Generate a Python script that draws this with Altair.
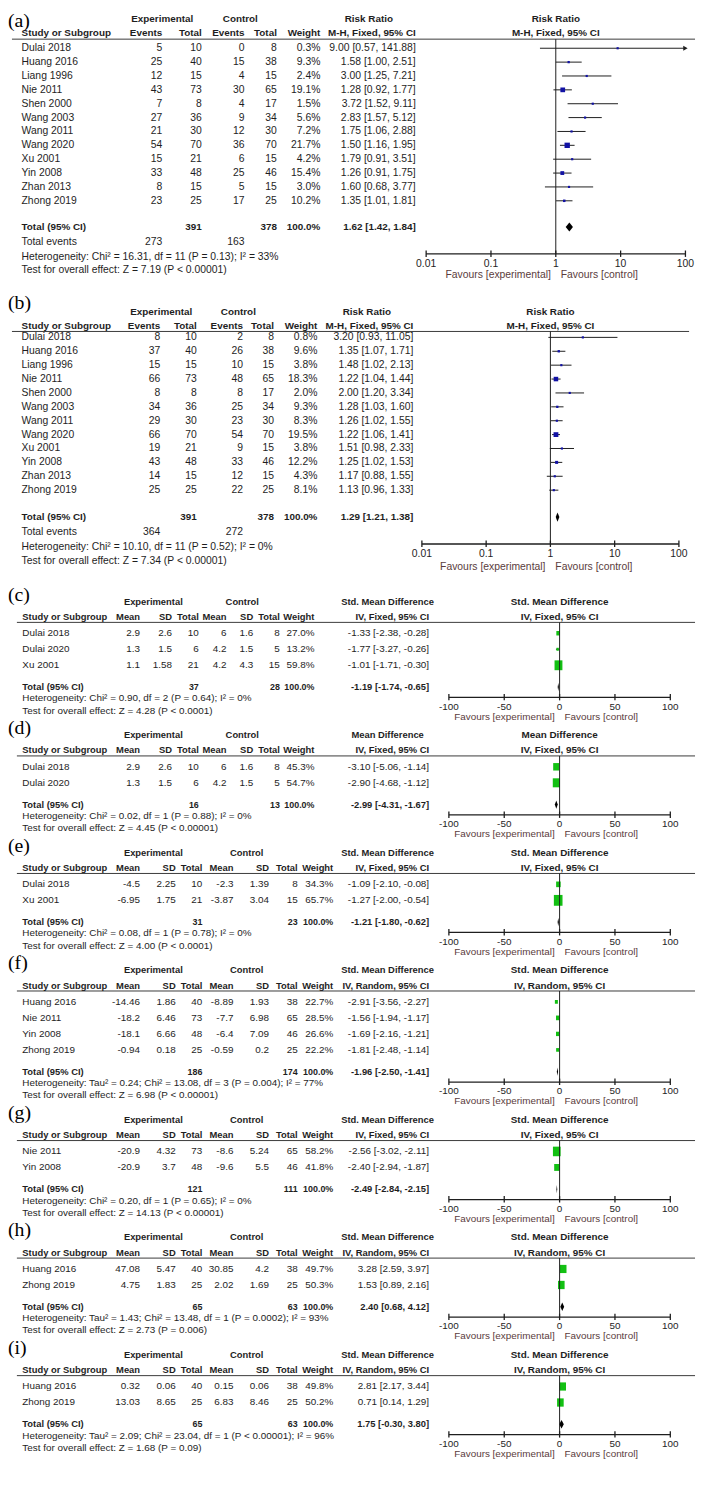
import altair as alt
import pandas as pd

# ======================= DATA =======================
# (a) risk ratio
a_study = ["Dulai 2018", "Huang 2016", "Liang 1996", "Nie 2011", "Shen 2000", "Wang 2003",
           "Wang 2011", "Wang 2020", "Xu 2001", "Yin 2008", "Zhan 2013", "Zhong 2019"]
a_exp_events = [5, 25, 12, 43, 7, 27, 21, 54, 15, 33, 8, 23]
a_exp_total = [10, 40, 15, 73, 8, 36, 30, 70, 21, 48, 15, 25]
a_ctl_events = [0, 15, 4, 30, 4, 9, 12, 36, 6, 25, 5, 17]
a_ctl_total = [8, 38, 15, 65, 17, 34, 30, 70, 15, 46, 15, 25]
a_weight = [0.3, 9.3, 2.4, 19.1, 1.5, 5.6, 7.2, 21.7, 4.2, 15.4, 3.0, 10.2]
a_est = [9.00, 1.58, 3.00, 1.28, 3.72, 2.83, 1.75, 1.50, 1.79, 1.26, 1.60, 1.35]
a_lo = [0.57, 1.00, 1.25, 0.92, 1.52, 1.57, 1.06, 1.16, 0.91, 0.91, 0.68, 1.01]
a_hi = [141.88, 2.51, 7.21, 1.77, 9.11, 5.12, 2.88, 1.95, 3.51, 1.75, 3.77, 1.81]
a_total = [391, 378, 1.62, 1.42, 1.84]
a_total_events = [273, 163]
a_het = "Heterogeneity: Chi\u00b2 = 16.31, df = 11 (P = 0.13); I\u00b2 = 33%"
a_test = "Test for overall effect: Z = 7.19 (P < 0.00001)"

# (b) risk ratio
b_study = a_study
b_exp_events = [8, 37, 15, 66, 8, 34, 29, 66, 19, 43, 14, 25]
b_exp_total = [10, 40, 15, 73, 8, 36, 30, 70, 21, 48, 15, 25]
b_ctl_events = [2, 26, 10, 48, 8, 25, 23, 54, 9, 33, 12, 22]
b_ctl_total = [8, 38, 15, 65, 17, 34, 30, 70, 15, 46, 15, 25]
b_weight = [0.8, 9.6, 3.8, 18.3, 2.0, 9.3, 8.3, 19.5, 3.8, 12.2, 4.3, 8.1]
b_est = [3.20, 1.35, 1.48, 1.22, 2.00, 1.28, 1.26, 1.22, 1.51, 1.25, 1.17, 1.13]
b_lo = [0.93, 1.07, 1.02, 1.04, 1.20, 1.03, 1.02, 1.06, 0.98, 1.02, 0.88, 0.96]
b_hi = [11.05, 1.71, 2.13, 1.44, 3.34, 1.60, 1.55, 1.41, 2.33, 1.53, 1.55, 1.33]
b_total = [391, 378, 1.29, 1.21, 1.38]
b_total_events = [364, 272]
b_het = "Heterogeneity: Chi\u00b2 = 10.10, df = 11 (P = 0.52); I\u00b2 = 0%"
b_test = "Test for overall effect: Z = 7.34 (P < 0.00001)"

# (c)
c_study = ["Dulai 2018", "Dulai 2020", "Xu 2001"]
c_exp_mean = [2.9, 1.3, 1.1]
c_exp_sd = [2.6, 1.5, 1.58]
c_exp_n = [10, 6, 21]
c_ctl_mean = [6, 4.2, 4.2]
c_ctl_sd = [1.6, 1.5, 4.3]
c_ctl_n = [8, 5, 15]
c_weight = [27.0, 13.2, 59.8]
c_est = [-1.33, -1.77, -1.01]
c_lo = [-2.38, -3.27, -1.71]
c_hi = [-0.28, -0.26, -0.30]
c_total = [37, 28, -1.19, -1.74, -0.65]
c_het = "Heterogeneity: Chi\u00b2 = 0.90, df = 2 (P = 0.64); I\u00b2 = 0%"
c_test = "Test for overall effect: Z = 4.28 (P < 0.0001)"

# (d)
d_study = ["Dulai 2018", "Dulai 2020"]
d_exp_mean = [2.9, 1.3]
d_exp_sd = [2.6, 1.5]
d_exp_n = [10, 6]
d_ctl_mean = [6, 4.2]
d_ctl_sd = [1.6, 1.5]
d_ctl_n = [8, 5]
d_weight = [45.3, 54.7]
d_est = [-3.10, -2.90]
d_lo = [-5.06, -4.68]
d_hi = [-1.14, -1.12]
d_total = [16, 13, -2.99, -4.31, -1.67]
d_het = "Heterogeneity: Chi\u00b2 = 0.02, df = 1 (P = 0.88); I\u00b2 = 0%"
d_test = "Test for overall effect: Z = 4.45 (P < 0.00001)"

# (e)
e_study = ["Dulai 2018", "Xu 2001"]
e_exp_mean = [-4.5, -6.95]
e_exp_sd = [2.25, 1.75]
e_exp_n = [10, 21]
e_ctl_mean = [-2.3, -3.87]
e_ctl_sd = [1.39, 3.04]
e_ctl_n = [8, 15]
e_weight = [34.3, 65.7]
e_est = [-1.09, -1.27]
e_lo = [-2.10, -2.00]
e_hi = [-0.08, -0.54]
e_total = [31, 23, -1.21, -1.80, -0.62]
e_het = "Heterogeneity: Chi\u00b2 = 0.08, df = 1 (P = 0.78); I\u00b2 = 0%"
e_test = "Test for overall effect: Z = 4.00 (P < 0.0001)"

# (f)
f_study = ["Huang 2016", "Nie 2011", "Yin 2008", "Zhong 2019"]
f_exp_mean = [-14.46, -18.2, -18.1, -0.94]
f_exp_sd = [1.86, 6.46, 6.66, 0.18]
f_exp_n = [40, 73, 48, 25]
f_ctl_mean = [-8.89, -7.7, -6.4, -0.59]
f_ctl_sd = [1.93, 6.98, 7.09, 0.2]
f_ctl_n = [38, 65, 46, 25]
f_weight = [22.7, 28.5, 26.6, 22.2]
f_est = [-2.91, -1.56, -1.69, -1.81]
f_lo = [-3.56, -1.94, -2.16, -2.48]
f_hi = [-2.27, -1.17, -1.21, -1.14]
f_total = [186, 174, -1.96, -2.50, -1.41]
f_het = "Heterogeneity: Tau\u00b2 = 0.24; Chi\u00b2 = 13.08, df = 3 (P = 0.004); I\u00b2 = 77%"
f_test = "Test for overall effect: Z = 6.98 (P < 0.00001)"

# (g)
g_study = ["Nie 2011", "Yin 2008"]
g_exp_mean = [-20.9, -20.9]
g_exp_sd = [4.32, 3.7]
g_exp_n = [73, 48]
g_ctl_mean = [-8.6, -9.6]
g_ctl_sd = [5.24, 5.5]
g_ctl_n = [65, 46]
g_weight = [58.2, 41.8]
g_est = [-2.56, -2.40]
g_lo = [-3.02, -2.94]
g_hi = [-2.11, -1.87]
g_total = [121, 111, -2.49, -2.84, -2.15]
g_het = "Heterogeneity: Chi\u00b2 = 0.20, df = 1 (P = 0.65); I\u00b2 = 0%"
g_test = "Test for overall effect: Z = 14.13 (P < 0.00001)"

# (h)
h_study = ["Huang 2016", "Zhong 2019"]
h_exp_mean = [47.08, 4.75]
h_exp_sd = [5.47, 1.83]
h_exp_n = [40, 25]
h_ctl_mean = [30.85, 2.02]
h_ctl_sd = [4.2, 1.69]
h_ctl_n = [38, 25]
h_weight = [49.7, 50.3]
h_est = [3.28, 1.53]
h_lo = [2.59, 0.89]
h_hi = [3.97, 2.16]
h_total = [65, 63, 2.40, 0.68, 4.12]
h_het = "Heterogeneity: Tau\u00b2 = 1.43; Chi\u00b2 = 13.48, df = 1 (P = 0.0002); I\u00b2 = 93%"
h_test = "Test for overall effect: Z = 2.73 (P = 0.006)"

# (i)
i_study = ["Huang 2016", "Zhong 2019"]
i_exp_mean = [0.32, 13.03]
i_exp_sd = [0.06, 8.65]
i_exp_n = [40, 25]
i_ctl_mean = [0.15, 6.83]
i_ctl_sd = [0.06, 8.46]
i_ctl_n = [38, 25]
i_weight = [49.8, 50.2]
i_est = [2.81, 0.71]
i_lo = [2.17, 0.14]
i_hi = [3.44, 1.29]
i_total = [65, 63, 1.75, -0.30, 3.80]
i_het = "Heterogeneity: Tau\u00b2 = 2.09; Chi\u00b2 = 23.04, df = 1 (P < 0.00001); I\u00b2 = 96%"
i_test = "Test for overall effect: Z = 1.68 (P = 0.09)"

rr_ticks = [0.01, 0.1, 1, 10, 100]
rr_tick_labels = ["0.01", "0.1", "1", "10", "100"]
md_ticks = [-100, -50, 0, 50, 100]
md_tick_labels = ["-100", "-50", "0", "50", "100"]

# ======================= LAYOUT / STYLE =======================
OFF = 8
CW, CH = 697, 1466
FONTS = {
    "rr": "Liberation Sans, Arial, Helvetica, sans-serif",
    "md": "Liberation Sans, Arial, Helvetica, sans-serif",
    "lab": "Liberation Serif, Times New Roman, serif",
}
# font sizes per panel family
FS = {
    "rr": dict(row=10.5, hdr=10, tot=10, foot=10.5, tick=10.5, fhdr=10, fav=10.5),
    "md": dict(row=10, hdr=9.5, tot=9, foot=10, tick=10, fhdr=10, fav=10),
}
INK = "#1e1e1e"
FAV = "#5a3c3c"
BLUE = "#1212a4"
GREEN = "#12c012"
RECT = "M-0.8,-1H0.8V1H-0.8Z"


def px(v):
    return round(v - OFF, 2)


texts, hlines = [], []
groups = {g: dict(st=[], dm=[], zr=[], ax=[], tk=[], tl=[], hd=[], fv=[]) for g in "ABM"}


def T(x, y, s, font, align="left", bold=False, fs=11, col=INK):
    texts.append(dict(x=px(x), y=px(y), text=s,
                      st=f"{font}|{align}|{'bold' if bold else 'normal'}", fs=fs, col=col))


def fnum(v):
    return f"{v:g}"


def fci(e, l, h):
    return f"{e:.2f} [{l:.2f}, {h:.2f}]"


def forest_common(g, p, zero, R, tot, ticks, labels, hdr1, hdr2, x0_val, x1_val, hh):
    G = groups[g]
    G["zr"].append(dict(z=zero, y0=px(R["line"]), y1=px(R["axis"])))
    yc = px(R["total"])
    G["dm"] += [dict(pn=p, dx=tot[3], dy=yc, dy2=yc),
                dict(pn=p, dx=tot[2], dy=yc - hh, dy2=yc + hh),
                dict(pn=p, dx=tot[4], dy=yc, dy2=yc)]
    G["ax"].append(dict(a=x0_val, b=x1_val, y=px(R["axis"])))
    for t, lab in zip(ticks, labels):
        G["tk"].append(dict(t=t, ya=px(R["axis"] - 3.5), yb=px(R["axis"] + 3)))
        G["tl"].append(dict(t=t, y=px(R["tick"]), text=lab))
    G["hd"].append(dict(t=zero, y=px(R["h1"]), text=hdr1))
    G["hd"].append(dict(t=zero, y=px(R["h2"]), text=hdr2))
    G["fv"].append(dict(t=zero, y=px(R["fav"])))


RR_ROWS = {
    "a": dict(label=13, h1=11, h2=25, line=31, row0=40.2, pitch=14.03, total=221, tev=236.7,
              het=251.7, test=265, axis=248.3, tick=258.3, fav=270, x1=703),
    "b": dict(label=298, h1=306.7, h2=321.7, line=326.7, row0=332.7, pitch=14.05, total=514.5,
              tev=530, het=545, test=558.5, axis=541.7, tick=551.7, fav=565, x1=697),
}
RR_COLS = {
    "a": dict(name=21.7, ev_e=164, tot_e=204, ev_c=247.3, tot_c=280, wt=324, ci=420.5,
              exp_c=164, ctl_c=243, hdr_c=373),
    "b": dict(name=21.7, ev_e=162, tot_e=199, ev_c=245.7, tot_c=277, wt=321, ci=418,
              exp_c=163, ctl_c=241, hdr_c=371),
}


def rr_panel(p, g, study, ee, et, ce, ct, wt, est, lo, hi, tot, tev, het, test):
    R, C, f = RR_ROWS[p], RR_COLS[p], "rr"
    S = FS[f]
    T(8, R["label"], f"({p})", "lab", fs=20, col="#000")
    T(C["exp_c"], R["h1"], "Experimental", f, "center", True, S["hdr"])
    T(C["ctl_c"], R["h1"], "Control", f, "center", True, S["hdr"])
    T(C["hdr_c"], R["h1"], "Risk Ratio", f, "center", True, S["hdr"])
    T(C["name"], R["h2"], "Study or Subgroup", f, "left", True, S["hdr"])
    for key, s in [("ev_e", "Events"), ("tot_e", "Total"), ("ev_c", "Events"), ("tot_c", "Total"),
                   ("wt", "Weight"), ("ci", "M-H, Fixed, 95% CI")]:
        T(C[key], R["h2"], s, f, "right", True, S["hdr"])
    hlines.append(dict(x0=px(12), x1=px(R["x1"]), y=px(R["line"])))
    for k in range(len(study)):
        y = R["row0"] + R["pitch"] * k
        T(C["name"], y, study[k], f, fs=S["row"])
        T(C["ev_e"], y, str(ee[k]), f, "right", fs=S["row"])
        T(C["tot_e"], y, str(et[k]), f, "right", fs=S["row"])
        T(C["ev_c"], y, str(ce[k]), f, "right", fs=S["row"])
        T(C["tot_c"], y, str(ct[k]), f, "right", fs=S["row"])
        T(C["wt"], y, f"{wt[k]:.1f}%", f, "right", fs=S["row"])
        T(C["ci"], y, fci(est[k], lo[k], hi[k]), f, "right", fs=S["row"])
        groups[g]["st"].append(dict(y=px(y), est=est[k], lo=lo[k], hi=hi[k],
                                    sz=max(2.2, wt[k] / 4.0) ** 2))
    T(C["name"], R["total"], "Total (95% CI)", f, "left", True, S["tot"])
    T(C["tot_e"], R["total"], str(tot[0]), f, "right", True, S["tot"])
    T(C["tot_c"], R["total"], str(tot[1]), f, "right", True, S["tot"])
    T(C["wt"], R["total"], "100.0%", f, "right", True, S["tot"])
    T(C["ci"], R["total"], fci(tot[2], tot[3], tot[4]), f, "right", True, S["tot"])
    T(C["name"], R["tev"], "Total events", f, fs=S["row"])
    T(C["ev_e"], R["tev"], str(tev[0]), f, "right", fs=S["row"])
    T(C["ev_c"], R["tev"], str(tev[1]), f, "right", fs=S["row"])
    T(C["name"], R["het"], het, f, fs=S["foot"])
    T(C["name"], R["test"], test, f, fs=S["foot"])
    forest_common(g, p, 1, R, tot, rr_ticks, rr_tick_labels, "Risk Ratio", "M-H, Fixed, 95% CI",
                  0.01, 100, 4.6)


MD_NARROW = dict(name=22.5, m_e=141.6, s_e=174, n_e=201, m_c=229, s_c=256, n_c=283,
                 wt=318, ci=434, exp_c=155, ctl_c=245, hdr_c=392)
MD_WIDE = dict(name=22.5, m_e=141.6, s_e=177.6, n_e=204.6, m_c=236, s_c=272, n_c=301,
               wt=337, ci=434, exp_c=155, ctl_c=249.5, hdr_c=392)


def md_panel(p, H, C, study, me, se, ne, mc, sc, nc, wt, est, lo, hi, tot, het, test, hdr, meth):
    f = "md"
    S = FS[f]
    n = len(study)
    last = H + 32 + 16.2 * (n - 1)
    R = dict(label=H - 7, h1=H, h2=H + 15.5, line=H + 21, total=last + 22)
    R["het"] = R["total"] + 11.5
    R["test"] = R["het"] + 12.5
    R["axis"] = R["total"] + 10.5
    R["tick"] = R["axis"] + 9.5
    R["fav"] = R["axis"] + 19.5
    T(8, R["label"], f"({p})", "lab", fs=20, col="#000")
    T(C["exp_c"], H, "Experimental", f, "center", True, S["hdr"])
    T(C["ctl_c"], H, "Control", f, "center", True, S["hdr"])
    T(C["hdr_c"], H, hdr, f, "center", True, S["hdr"])
    T(C["name"], R["h2"], "Study or Subgroup", f, "left", True, S["hdr"])
    for key, s in [("m_e", "Mean"), ("s_e", "SD"), ("n_e", "Total"), ("m_c", "Mean"),
                   ("s_c", "SD"), ("n_c", "Total"), ("wt", "Weight"), ("ci", meth)]:
        T(C[key], R["h2"], s, f, "right", True, S["hdr"])
    hlines.append(dict(x0=px(17), x1=px(703), y=px(R["line"])))
    for k in range(n):
        y = H + 32 + 16.2 * k
        T(C["name"], y, study[k], f, fs=S["row"])
        T(C["m_e"], y, fnum(me[k]), f, "right", fs=S["row"])
        T(C["s_e"], y, fnum(se[k]), f, "right", fs=S["row"])
        T(C["n_e"], y, str(ne[k]), f, "right", fs=S["row"])
        T(C["m_c"], y, fnum(mc[k]), f, "right", fs=S["row"])
        T(C["s_c"], y, fnum(sc[k]), f, "right", fs=S["row"])
        T(C["n_c"], y, str(nc[k]), f, "right", fs=S["row"])
        T(C["wt"], y, f"{wt[k]:.1f}%", f, "right", fs=S["row"])
        T(C["ci"], y, fci(est[k], lo[k], hi[k]), f, "right", fs=S["row"])
        groups["M"]["st"].append(dict(y=px(y), est=est[k], lo=lo[k], hi=hi[k],
                                      sz=max(3.0, wt[k] / 6.0) ** 2))
    T(C["name"], R["total"], "Total (95% CI)", f, "left", True, S["tot"] + 0.5)
    T(C["n_e"], R["total"], str(tot[0]), f, "right", True, S["tot"])
    T(C["n_c"], R["total"], str(tot[1]), f, "right", True, S["tot"])
    T(C["wt"], R["total"], "100.0%", f, "right", True, S["tot"])
    T(C["ci"], R["total"], fci(tot[2], tot[3], tot[4]), f, "right", True, S["tot"] + 0.5)
    T(C["name"], R["het"], het, f, fs=S["foot"])
    T(C["name"], R["test"], test, f, fs=S["foot"])
    forest_common("M", p, 0, R, tot, md_ticks, md_tick_labels, hdr, meth, -100, 100, 4.2)
    return R["test"]


rr_panel("a", "A", a_study, a_exp_events, a_exp_total, a_ctl_events, a_ctl_total, a_weight,
         a_est, a_lo, a_hi, a_total, a_total_events, a_het, a_test)
rr_panel("b", "B", b_study, b_exp_events, b_exp_total, b_ctl_events, b_ctl_total, b_weight,
         b_est, b_lo, b_hi, b_total, b_total_events, b_het, b_test)

SMD = "Std. Mean Difference"
md_specs = [
    ("c", MD_NARROW, c_study, c_exp_mean, c_exp_sd, c_exp_n, c_ctl_mean, c_ctl_sd, c_ctl_n, c_weight,
     c_est, c_lo, c_hi, c_total, c_het, c_test, SMD, "IV, Fixed, 95% CI"),
    ("d", MD_NARROW, d_study, d_exp_mean, d_exp_sd, d_exp_n, d_ctl_mean, d_ctl_sd, d_ctl_n, d_weight,
     d_est, d_lo, d_hi, d_total, d_het, d_test, "Mean Difference", "IV, Fixed, 95% CI"),
    ("e", MD_WIDE, e_study, e_exp_mean, e_exp_sd, e_exp_n, e_ctl_mean, e_ctl_sd, e_ctl_n, e_weight,
     e_est, e_lo, e_hi, e_total, e_het, e_test, SMD, "IV, Fixed, 95% CI"),
    ("f", MD_WIDE, f_study, f_exp_mean, f_exp_sd, f_exp_n, f_ctl_mean, f_ctl_sd, f_ctl_n, f_weight,
     f_est, f_lo, f_hi, f_total, f_het, f_test, SMD, "IV, Random, 95% CI"),
    ("g", MD_WIDE, g_study, g_exp_mean, g_exp_sd, g_exp_n, g_ctl_mean, g_ctl_sd, g_ctl_n, g_weight,
     g_est, g_lo, g_hi, g_total, g_het, g_test, SMD, "IV, Fixed, 95% CI"),
    ("h", MD_WIDE, h_study, h_exp_mean, h_exp_sd, h_exp_n, h_ctl_mean, h_ctl_sd, h_ctl_n, h_weight,
     h_est, h_lo, h_hi, h_total, h_het, h_test, SMD, "IV, Random, 95% CI"),
    ("i", MD_WIDE, i_study, i_exp_mean, i_exp_sd, i_exp_n, i_ctl_mean, i_ctl_sd, i_ctl_n, i_weight,
     i_est, i_lo, i_hi, i_total, i_het, i_test, SMD, "IV, Random, 95% CI"),
]
H = 600.0
for spec in md_specs:
    p, C = spec[0], spec[1]
    test_y = md_panel(p, H, C, *spec[2:])
    H = test_y + 24.7

# ======================= CHART =======================
YS = alt.Scale(domain=[0, CH], reverse=True, nice=False, zero=False)
XS = alt.Scale(domain=[0, CW], nice=False, zero=False)


def yenc(field="y"):
    return alt.Y(f"{field}:Q", scale=YS, axis=None)


layers = []

hl = pd.DataFrame(hlines)
layers.append(alt.Chart(hl).mark_rule(color="#3a3a3a", strokeWidth=1).encode(
    x=alt.X("x0:Q", scale=XS, axis=None), x2="x1:Q", y=yenc()))

tdf = pd.DataFrame(texts)
for st, sub in tdf.groupby("st"):
    font, align, wgt = st.split("|")
    layers.append(alt.Chart(sub).mark_text(font=FONTS[font], align=align, fontWeight=wgt,
                                           baseline="middle").encode(
        x=alt.X("x:Q", scale=XS, axis=None), y=yenc(), text="text:N",
        size=alt.Size("fs:Q", scale=None, legend=None),
        color=alt.Color("col:N", scale=None, legend=None)))

forest_cfg = {
    "A": dict(sc=alt.Scale(type="log", domain=[0.01, 100], range=[px(431), px(693.3)], clamp=True,
                           nice=False), font="rr", color=BLUE, shape="square"),
    "B": dict(sc=alt.Scale(type="log", domain=[0.01, 100], range=[px(426.7), px(686.7)], clamp=True,
                           nice=False), font="rr", color=BLUE, shape="square"),
    "M": dict(sc=alt.Scale(type="linear", domain=[-100, 100], range=[px(454), px(678)], nice=False,
                           zero=False), font="md", color=GREEN, shape=RECT),
}

for g, cfg in forest_cfg.items():
    G, sc, fnt = groups[g], cfg["sc"], FONTS[cfg["font"]]
    S = FS[cfg["font"]]
    st = pd.DataFrame(G["st"])
    layers.append(alt.Chart(st).mark_rule(color=INK, strokeWidth=1).encode(
        x=alt.X("lo:Q", scale=sc, axis=None), x2="hi:Q", y=yenc()))
    layers.append(alt.Chart(st).mark_point(shape=cfg["shape"], filled=True, opacity=1,
                                           color=cfg["color"], strokeWidth=0).encode(
        x=alt.X("est:Q", scale=sc, axis=None), y=yenc(),
        size=alt.Size("sz:Q", scale=None, legend=None)))
    if g == "A":
        layers.append(alt.Chart(st).transform_filter("datum.hi > 100").mark_point(
            shape="triangle-right", filled=True, opacity=1, size=26, color=INK, dx=-2).encode(
            x=alt.X("hi:Q", scale=sc, axis=None), y=yenc()))
    layers.append(alt.Chart(pd.DataFrame(G["dm"])).mark_area(color="#000", orient="vertical",
                                                             opacity=1).encode(
        x=alt.X("dx:Q", scale=sc, axis=None), y=yenc("dy"), y2="dy2:Q", detail="pn:N"))
    layers.append(alt.Chart(pd.DataFrame(G["zr"])).mark_rule(color=INK, strokeWidth=1).encode(
        x=alt.X("z:Q", scale=sc, axis=None), y=yenc("y0"), y2="y1:Q"))
    layers.append(alt.Chart(pd.DataFrame(G["ax"])).mark_rule(color=INK, strokeWidth=1.3).encode(
        x=alt.X("a:Q", scale=sc, axis=None), x2="b:Q", y=yenc()))
    layers.append(alt.Chart(pd.DataFrame(G["tk"])).mark_rule(color=INK, strokeWidth=1.3).encode(
        x=alt.X("t:Q", scale=sc, axis=None), y=yenc("ya"), y2="yb:Q"))
    layers.append(alt.Chart(pd.DataFrame(G["tl"])).mark_text(font=fnt, fontSize=S["tick"], color=INK,
                                                             baseline="middle").encode(
        x=alt.X("t:Q", scale=sc, axis=None), y=yenc(), text="text:N"))
    layers.append(alt.Chart(pd.DataFrame(G["hd"])).mark_text(font=fnt, fontSize=S["fhdr"], color=INK,
                                                             fontWeight="bold",
                                                             baseline="middle").encode(
        x=alt.X("t:Q", scale=sc, axis=None), y=yenc(), text="text:N"))
    fv = pd.DataFrame(G["fv"])
    layers.append(alt.Chart(fv).mark_text(font=fnt, fontSize=S["fav"], color=FAV, align="right", dx=-5,
                                          baseline="middle", text="Favours [experimental]").encode(
        x=alt.X("t:Q", scale=sc, axis=None), y=yenc()))
    layers.append(alt.Chart(fv).mark_text(font=fnt, fontSize=S["fav"], color=FAV, align="left", dx=5,
                                          baseline="middle", text="Favours [control]").encode(
        x=alt.X("t:Q", scale=sc, axis=None), y=yenc()))

chart = alt.layer(*layers).resolve_scale(x="independent").properties(
    width=CW, height=CH, padding=0, background="white",
    autosize=alt.AutoSizeParams(type="none"),
).configure_view(stroke=None)

chart.save("out.html", embed_options={"renderer": "svg", "actions": False})
